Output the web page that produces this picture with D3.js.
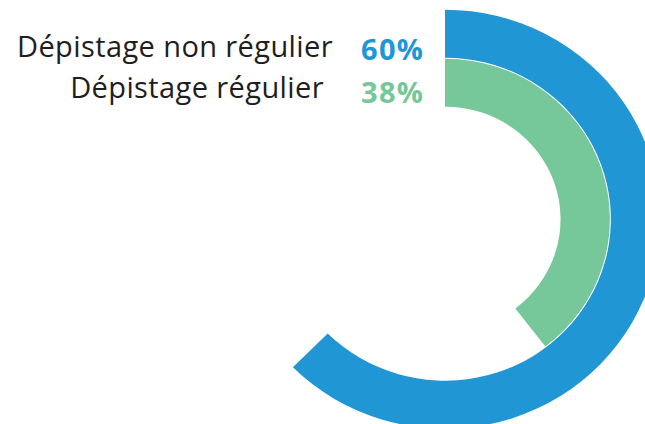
<!DOCTYPE html>
<html>
<head>
<meta charset="utf-8">
<script src="https://cdn.jsdelivr.net/npm/d3@7"></script>
<style>
  html, body { margin: 0; padding: 0; background: #fff; }
  svg { display: block; }
</style>
</head>
<body>
<svg id="chart" width="645" height="424"></svg>
<script>
// Share of screenings, outer ring first
const categories = ["Dépistage non régulier", "Dépistage régulier"];
const values = [60, 38];
const valueLabels = ["60%", "38%"];
const colors = ["#2196d4", "#76c799"];

const svg = d3.select("#chart");
const cx = 445, cy = 219.2;

// value -> sweep angle, starting at 12 o'clock and running clockwise
const angle = d3.scaleLinear().domain([0, 96]).range([0, 2 * Math.PI]);
// one concentric ring per category (outer ring first)
const ring = d3.scaleBand().domain(categories).range([209.5, 112.5]).paddingInner(0.02);

const arc = d3.arc()
  .startAngle(0)
  .endAngle(d => angle(d.value))
  .innerRadius(d => ring(d.cat))
  .outerRadius(d => ring(d.cat) + ring.bandwidth());

const rows = categories.map((c, i) => ({ cat: c, value: values[i], label: valueLabels[i], color: colors[i] }));

svg.append("g")
  .attr("transform", `translate(${cx},${cy}) scale(1.027,1)`)
  .selectAll("path")
  .data(rows)
  .join("path")
  .attr("d", arc)
  .attr("fill", d => d.color);

// legend labels on the left of the ring starts
const labelX = [333, 324];
const labelY = [57, 98];
const pctY = [60, 103];

svg.append("g").selectAll("text")
  .data(rows)
  .join("text")
  .attr("x", (d, i) => labelX[i])
  .attr("y", (d, i) => labelY[i])
  .attr("text-anchor", "end")
  .attr("font-family", "'Open Sans', Lato, sans-serif")
  .attr("font-size", 29)
  .attr("letter-spacing", 0.4)
  .attr("fill", "#1e1e1e")
  .text(d => d.cat);

svg.append("g").selectAll("text")
  .data(rows)
  .join("text")
  .attr("x", 424.3)
  .attr("y", (d, i) => pctY[i])
  .attr("text-anchor", "end")
  .attr("font-family", "'Open Sans', Lato, sans-serif")
  .attr("font-weight", 700)
  .attr("font-size", 29)
  .attr("letter-spacing", 1.3)
  .attr("fill", d => d.color)
  .text(d => d.label);
</script>
</body>
</html>
